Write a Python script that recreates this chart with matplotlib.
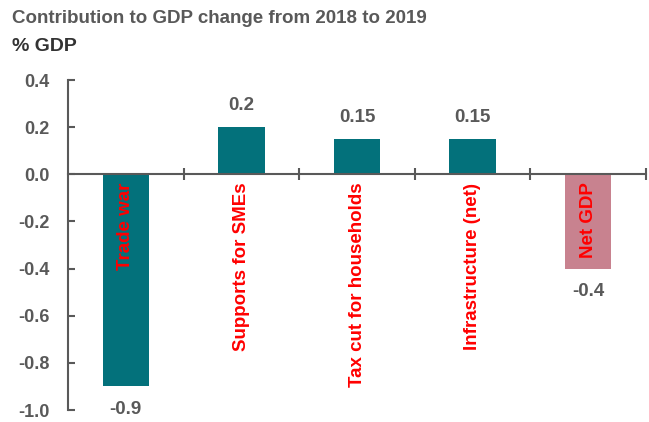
import matplotlib.pyplot as plt
import numpy as np

plt.rcParams['font.family'] = ['Liberation Sans', 'DejaVu Sans']

# Dati
categories = ['Trade war', 'Supports for SMEs', 'Tax cut for households', 'Infrastructure (net)', 'Net GDP']
values = [-0.9, 0.2, 0.15, 0.15, -0.4]
value_labels = ['-0.9', '0.2', '0.15', '0.15', '-0.4']
yticks = [-1.0, -0.8, -0.6, -0.4, -0.2, 0.0, 0.2, 0.4]
colors = ['#03717B', '#03717B', '#03717B', '#03717B', '#C8828F']

grey = '#595959'

fig = plt.figure(figsize=(6.49, 4.22), dpi=100)
ax = fig.add_axes([0.1048, 0.0284, 0.8906, 0.782])

x = np.arange(len(categories))
bars = ax.bar(x, values, width=0.4, color=colors, zorder=2)

ax.set_xlim(-0.5, len(categories) - 0.5)
ax.set_ylim(-1.0, 0.4)
ax.set_yticks(yticks)
ax.set_yticklabels([f'{v:.1f}' for v in yticks])

# asse x sullo zero
ax.spines['bottom'].set_position(('data', 0))
ax.spines['top'].set_visible(False)
ax.spines['right'].set_visible(False)
for s in ['left', 'bottom']:
    ax.spines[s].set_color(grey)
    ax.spines[s].set_linewidth(1.5)
ax.set_xticks(np.arange(0.5, len(categories), 1.0))
ax.set_xticklabels([])
ax.tick_params(axis='x', direction='inout', length=8, width=1.5, color=grey)
ax.tick_params(axis='y', direction='in', length=5, width=1.5, color=grey,
               labelcolor=grey, labelsize=13, pad=13)
for lbl in ax.get_yticklabels():
    lbl.set_fontweight('bold')

# etichette categorie e valori
for xi, v, lab, name in zip(x, values, value_labels, categories):
    ax.text(xi, -0.035, name, rotation=90, ha='center', va='top',
            color='#FF0000', fontsize=13.5, fontweight='bold', zorder=3)
    if v >= 0:
        ax.text(xi, v + 0.055, lab, ha='center', va='bottom',
                color=grey, fontsize=13.5, fontweight='bold')
    else:
        ax.text(xi, v - 0.06, lab, ha='center', va='top',
                color=grey, fontsize=13.5, fontweight='bold')

fig.text(0.018, 0.955, 'Contribution to GDP change from 2018 to 2019',
         color=grey, fontsize=13.5, fontweight='bold', va='center')
fig.text(0.018, 0.89, '% GDP', color='#333333', fontsize=14,
         fontweight='bold', va='center')

fig.savefig('out.png', dpi=100)
